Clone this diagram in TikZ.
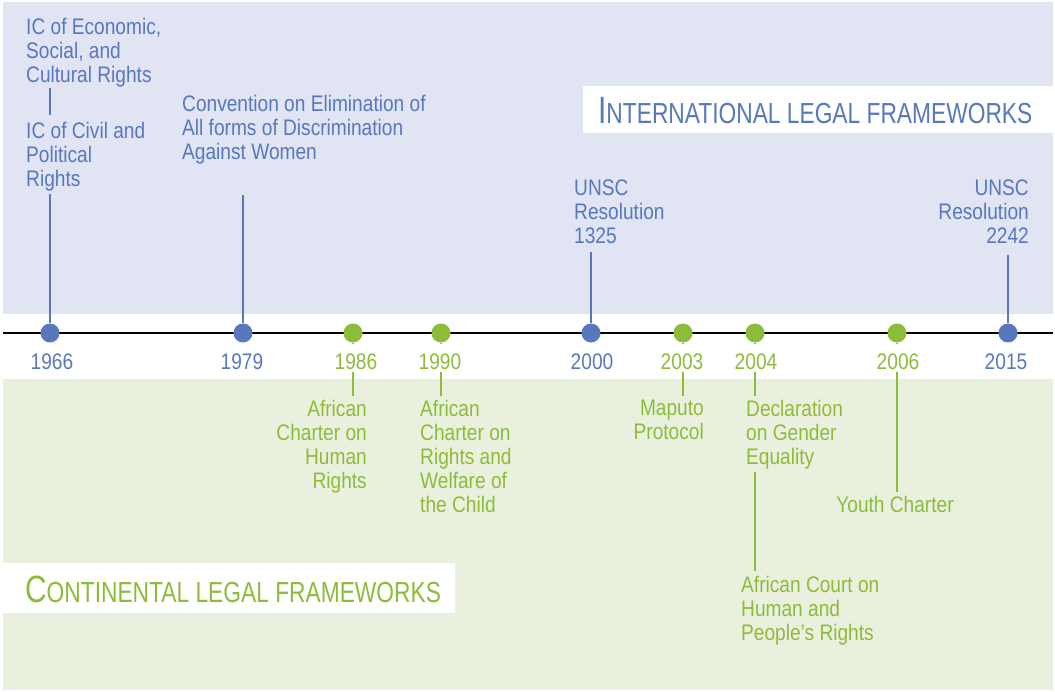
\documentclass[tikz,border=0pt]{standalone}
\usepackage{fontspec}
\setmainfont[FakeStretch=0.85]{Liberation Sans}
\newfontfamily\headfont[FakeStretch=0.785]{Liberation Sans}
\definecolor{iblue}{HTML}{5878BE}
\definecolor{igreen}{HTML}{8DBB3A}
\definecolor{bgblue}{HTML}{E0E4F3}
\definecolor{bggreen}{HTML}{E9F1DE}
\tikzset{
  lbl/.style={inner sep=0pt, font=\fontsize{22.5}{24}\selectfont},
  bluelbl/.style={lbl, text=iblue},
  greenlbl/.style={lbl, text=igreen},
  yearlbl/.style={inner sep=2pt, font=\fontsize{22.5}{24}\selectfont},
  headlbl/.style={anchor=base west, inner sep=0pt},
  bluedot/.style={circle, fill=iblue, minimum size=19pt, inner sep=0pt},
  greendot/.style={circle, fill=igreen, minimum size=19pt, inner sep=0pt},
  blueline/.style={draw=iblue, line width=2.7pt},
  greenline/.style={draw=igreen, line width=2.7pt},
}
\begin{document}
\begin{tikzpicture}[x=1pt,y=-1pt]
\useasboundingbox (0,0) rectangle (1055,691);
% backgrounds
\fill[bgblue] (3,2) rectangle (1053,314);
\fill[bggreen] (3,379) rectangle (1053,690);
\fill[white] (583,86) rectangle (1053,133);
\fill[white] (3,563) rectangle (455,613);
\node[headlbl, text=iblue] (inthead) at (598,123)
  {\headfont\fontsize{38}{38}\selectfont I\fontsize{29}{29}\selectfont NTERNATIONAL LEGAL FRAMEWORKS};
\node[headlbl, text=igreen] (conthead) at (25,602)
  {\headfont\fontsize{38}{38}\selectfont C\fontsize{29}{29}\selectfont ONTINENTAL LEGAL FRAMEWORKS};
% timeline
\coordinate (tl) at (3,333);
\coordinate (tr) at (1053,333);
\draw[line width=2pt] (tl) -- (tr);
% dots
\node[bluedot] (d1966) at (50,333) {};
\node[bluedot] (d1979) at (243,333) {};
\node[greendot] (d1986) at (353,333) {};
\node[greendot] (d1990) at (441,333) {};
\node[bluedot] (d2000) at (591,333) {};
\node[greendot] (d2003) at (683,333) {};
\node[greendot] (d2004) at (755,333) {};
\node[greendot] (d2006) at (897,333) {};
\node[bluedot] (d2015) at (1008,333) {};
% years
\node[yearlbl, text=iblue] (y1966) at (52,362) {1966};
\node[yearlbl, text=iblue] (y1979) at (242,362) {1979};
\node[yearlbl, text=igreen] (y1986) at (356,362) {1986};
\node[yearlbl, text=igreen] (y1990) at (440,362) {1990};
\node[yearlbl, text=iblue] (y2000) at (592,362) {2000};
\node[yearlbl, text=igreen] (y2003) at (682,362) {2003};
\node[yearlbl, text=igreen] (y2004) at (756,362) {2004};
\node[yearlbl, text=igreen] (y2006) at (898,362) {2006};
\node[yearlbl, text=iblue] (y2015) at (1006,362) {2015};
% international labels
\node[bluelbl, anchor=north west, align=left] (econ) at (26,18) {IC of Economic,\\Social, and\\Cultural Rights};
\node[bluelbl, anchor=north west, align=left] (civil) at (26,122) {IC of Civil and\\Political\\Rights};
\node[bluelbl, anchor=north west, align=left] (cedaw) at (182,95) {Convention on Elimination of\\All forms of Discrimination\\Against Women};
\node[bluelbl, anchor=north west, align=left] (unscA) at (574,180) {UNSC\\Resolution\\1325};
\node[bluelbl, anchor=north east, align=right] (unscB) at (1029,180) {UNSC\\Resolution\\2242};
% continental labels
\node[greenlbl, anchor=north east, align=right] (achr) at (367,400) {African\\Charter on\\Human\\Rights};
\node[greenlbl, anchor=north west, align=left] (acrwc) at (420,400) {African\\Charter on\\Rights and\\Welfare of\\the Child};
\node[greenlbl, anchor=north east, align=right] (maputo) at (704,400) {Maputo\\Protocol};
\node[greenlbl, anchor=north west, align=left] (decl) at (746,400) {Declaration\\on Gender\\Equality};
\node[greenlbl, anchor=north west, align=left] (court) at (741,576) {African Court on\\Human and\\People’s Rights};
\node[greenlbl, anchor=north] (youth) at (895,496) {Youth Charter};
% connectors international
\draw[blueline, shorten <=1pt, shorten >=7pt] (econ.south -| d1966) -- (civil.north -| d1966);
\draw[blueline, shorten >=3pt] (d1966) -- (civil.south -| d1966);
\draw[blueline, shorten >=31pt] (d1979) -- (cedaw.south -| d1979);
\draw[blueline, shorten >=8pt] (d2000) -- (unscA.south -| d2000);
\draw[blueline, shorten >=11pt] (d2015) -- (unscB.south -| d2015);
% connectors continental
\draw[greenline, shorten >=8pt] (d1986) -- (y1986.north -| d1986);
\draw[greenline, shorten >=4pt] (y1986.south -| d1986) -- (achr.north -| d1986);
\draw[greenline, shorten >=8pt] (d1990) -- (y1990.north -| d1990);
\draw[greenline, shorten >=4pt] (y1990.south -| d1990) -- (acrwc.north -| d1990);
\draw[greenline, shorten >=8pt] (d2003) -- (y2003.north -| d2003);
\draw[greenline, shorten >=4pt] (y2003.south -| d2003) -- (maputo.north -| d2003);
\draw[greenline, shorten >=8pt] (d2004) -- (y2004.north -| d2004);
\draw[greenline, shorten >=4pt] (y2004.south -| d2004) -- (decl.north -| d2004);
\draw[greenline, shorten <=3pt, shorten >=5pt] (decl.south -| d2004) -- (court.north -| d2004);
\draw[greenline, shorten >=8pt] (d2006) -- (y2006.north -| d2006);
\draw[greenline, shorten >=4pt] (y2006.south -| d2006) -- (youth.north -| d2006);
\end{tikzpicture}
\end{document}
